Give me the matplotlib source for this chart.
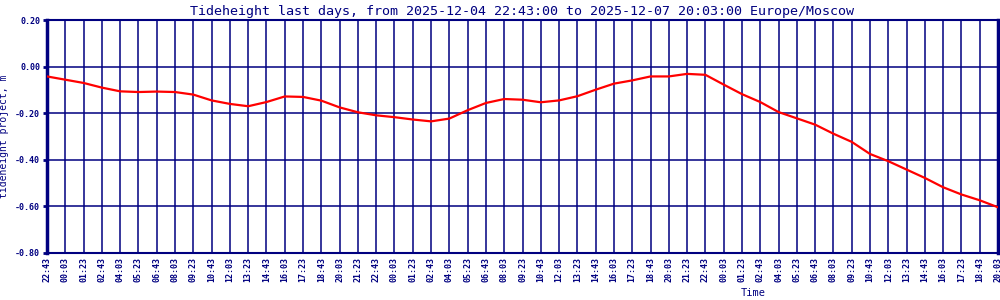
import datetime

import matplotlib
matplotlib.use("Agg")
import matplotlib.dates as mdates
from matplotlib import pyplot as plt

# tide height read every 80 minutes from 2025-12-04 22:43 to 2025-12-07 20:03
start = datetime.datetime(2025, 12, 4, 22, 43)
step_min = 80
heights = [
    -0.042, -0.056, -0.070, -0.090, -0.106, -0.109, -0.107, -0.109, -0.120, -0.145,
    -0.160, -0.170, -0.152, -0.128, -0.130, -0.146, -0.175, -0.196, -0.209, -0.217,
    -0.227, -0.235, -0.223, -0.187, -0.156, -0.139, -0.142, -0.153, -0.145, -0.127,
    -0.099, -0.073, -0.059, -0.042, -0.042, -0.031, -0.035, -0.077, -0.118, -0.152,
    -0.195, -0.222, -0.249, -0.288, -0.323, -0.375, -0.406, -0.442, -0.478, -0.518,
    -0.549, -0.574, -0.604,
]
times = [start + datetime.timedelta(minutes=step_min * i) for i in range(len(heights))]
yticks = [0.20, 0.00, -0.20, -0.40, -0.60, -0.80]

navy = "#000080"
mono = "DejaVu Sans Mono"

fig = plt.figure(figsize=(10, 3), dpi=100)
ax = fig.add_axes([0.047, 0.157, 0.951, 0.776])

ax.plot(times, heights, color="#ff0000", lw=1.6, zorder=3)

ax.set_xlim(times[0], times[-1])
ax.set_ylim(-0.8, 0.2)
ax.set_xticks(times)
ax.xaxis.set_major_formatter(mdates.DateFormatter("%H:%M"))
ax.set_yticks(yticks)
ax.set_yticklabels(["%.2f" % v for v in yticks])

ax.grid(True, color=navy, lw=1.1)
ax.tick_params(axis="x", length=0, labelrotation=90, labelsize=6, labelcolor=navy, pad=3)
ax.tick_params(axis="y", length=3, width=2, color=navy, labelsize=6, labelcolor=navy, pad=2)
for lbl in ax.get_xticklabels() + ax.get_yticklabels():
    lbl.set_family(mono)
    lbl.set_weight("bold")

for side in ["left", "right"]:
    ax.spines[side].set_color(navy)
    ax.spines[side].set_linewidth(2.5)
for side in ["top", "bottom"]:
    ax.spines[side].set_color(navy)
    ax.spines[side].set_linewidth(1.5)

ax.set_title("Tideheight last days, from 2025-12-04 22:43:00 to 2025-12-07 20:03:00 Europe/Moscow",
             family=mono, fontsize=9.6, color=navy, pad=4)
ax.set_ylabel("tideheight project, m", family=mono, fontsize=7, color=navy)
ax.yaxis.set_label_coords(-0.040, 0.5)
fig.text(0.753, 0.022, "Time", family=mono, fontsize=7.5, color=navy, ha="center", va="center")

fig.savefig("out.png", dpi=100, facecolor="white")
